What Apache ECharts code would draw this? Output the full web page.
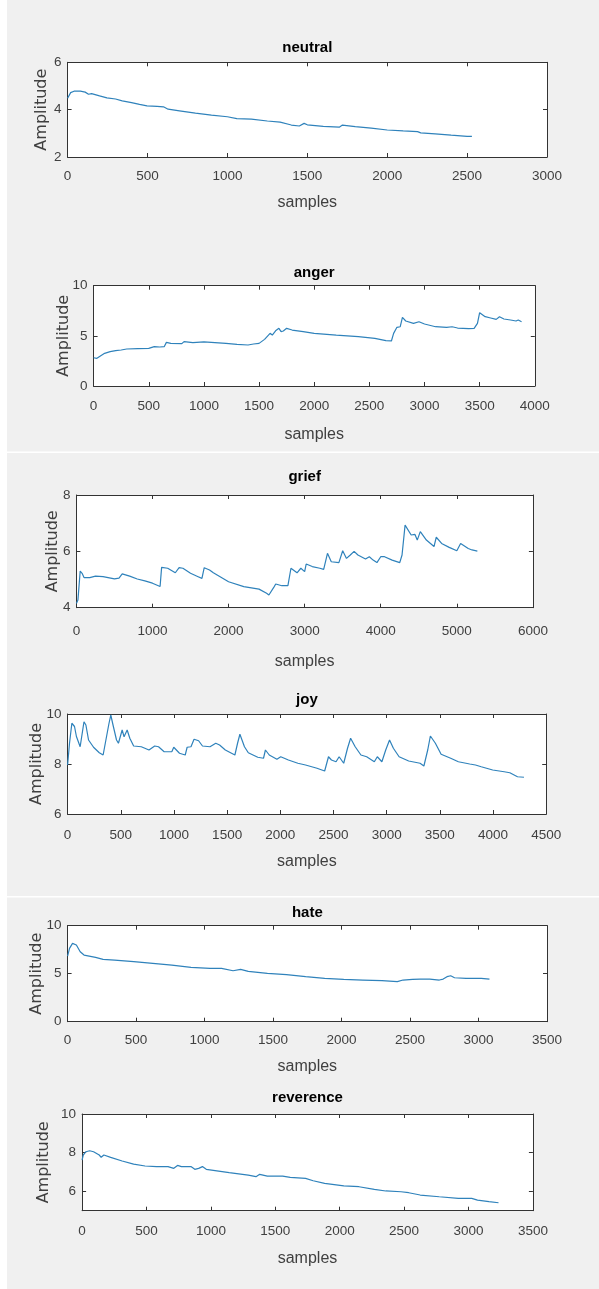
<!DOCTYPE html>
<html>
<head>
<meta charset="utf-8">
<script src="https://cdn.jsdelivr.net/npm/echarts@6/dist/echarts.min.js"></script>
<style>
html,body{margin:0;padding:0;background:#f0f0f0;overflow:hidden;}
#chart{width:599px;height:1289px;}
</style>
</head>
<body>
<div id="chart"></div>
<script>
// ---- data: [sample, amplitude] ----
const titles = ['neutral', 'anger', 'grief', 'joy', 'hate', 'reverence'];
const xLabelName = 'samples';
const yLabelName = 'Amplitude';

const neutral = [[0,4.48],[19,4.72],[40,4.78],[80,4.78],[110,4.74],[131,4.65],[150,4.68],[200,4.58],[246,4.50],[300,4.45],[342,4.37],[400,4.30],[450,4.22],[497,4.16],[560,4.14],[600,4.12],[629,4.02],[700,3.95],[800,3.85],[900,3.77],[1000,3.70],[1059,3.62],[1150,3.60],[1250,3.52],[1330,3.47],[1400,3.35],[1450,3.31],[1480,3.42],[1500,3.36],[1600,3.29],[1700,3.26],[1720,3.35],[1800,3.28],[1900,3.22],[2000,3.14],[2100,3.10],[2190,3.07],[2210,3.02],[2300,2.98],[2400,2.92],[2500,2.87],[2530,2.87]];

const anger = [[0,2.82],[30,2.76],[100,3.26],[150,3.42],[200,3.52],[250,3.59],[300,3.69],[400,3.72],[500,3.75],[550,3.92],[600,3.89],[640,3.92],[660,4.35],[700,4.25],[800,4.22],[820,4.42],[900,4.32],[1000,4.39],[1100,4.32],[1200,4.25],[1300,4.15],[1400,4.09],[1450,4.19],[1500,4.25],[1550,4.65],[1600,5.25],[1620,5.08],[1650,5.5],[1680,5.75],[1700,5.42],[1720,5.48],[1750,5.75],[1800,5.58],[1900,5.42],[2000,5.25],[2200,5.08],[2400,4.92],[2550,4.75],[2650,4.52],[2700,4.49],[2720,5.25],[2750,5.85],[2780,5.91],[2800,6.84],[2830,6.48],[2900,6.25],[2950,6.41],[3000,6.18],[3100,5.91],[3200,5.85],[3250,5.91],[3300,5.78],[3400,5.72],[3450,5.75],[3480,6.25],[3500,7.31],[3550,6.91],[3600,6.78],[3650,6.64],[3680,6.91],[3720,6.68],[3780,6.58],[3830,6.48],[3850,6.58],[3880,6.41]];

const grief = [[0,4.15],[20,4.27],[50,5.30],[75,5.22],[100,5.07],[176,5.07],[251,5.12],[350,5.10],[500,5.02],[560,5.05],[602,5.20],[700,5.12],[800,5.02],[900,4.95],[1000,4.87],[1100,4.75],[1120,5.43],[1200,5.40],[1300,5.24],[1350,5.42],[1400,5.40],[1500,5.22],[1600,5.10],[1650,5.04],[1680,5.42],[1750,5.34],[1800,5.24],[2000,4.92],[2200,4.75],[2400,4.66],[2500,4.51],[2530,4.45],[2600,4.75],[2620,4.84],[2700,4.78],[2780,4.78],[2820,5.40],[2900,5.24],[2950,5.40],[3000,5.28],[3020,5.55],[3100,5.46],[3200,5.40],[3250,5.36],[3300,5.93],[3350,5.63],[3450,5.60],[3500,6.02],[3550,5.75],[3600,5.87],[3650,6.00],[3700,5.87],[3800,5.73],[3850,5.81],[3900,5.69],[3950,5.60],[4000,5.81],[4050,5.81],[4150,5.69],[4250,5.60],[4280,5.87],[4320,6.93],[4400,6.58],[4420,6.52],[4450,6.60],[4480,6.40],[4520,6.70],[4600,6.40],[4700,6.17],[4730,6.50],[4800,6.28],[4900,6.14],[5000,6.02],[5050,6.28],[5150,6.10],[5200,6.05],[5270,6.01]];

const joy = [[0,7.96],[18,8.83],[40,9.63],[65,9.5],[83,9.1],[118,8.69],[136,8.72],[154,9.69],[172,9.56],[197,8.96],[244,8.67],[298,8.45],[334,8.36],[352,8.38],[388,9.6],[406,9.96],[427,9.56],[460,8.96],[478,8.83],[513,9.36],[531,9.09],[560,9.36],[585,9.03],[621,8.72],[693,8.69],[765,8.56],[819,8.72],[855,8.69],[908,8.49],[980,8.49],[998,8.67],[1052,8.43],[1106,8.36],[1124,8.67],[1160,8.69],[1189,8.99],[1232,8.93],[1268,8.72],[1339,8.69],[1393,8.83],[1429,8.76],[1483,8.56],[1573,8.36],[1598,8.83],[1620,9.19],[1663,8.69],[1699,8.45],[1788,8.27],[1842,8.23],[1860,8.56],[1896,8.36],[1968,8.19],[2004,8.29],[2022,8.36],[2076,8.16],[2165,8.03],[2237,7.96],[2345,7.83],[2417,7.72],[2453,8.29],[2481,8.16],[2524,8.09],[2553,8.29],[2596,8.03],[2632,8.63],[2661,9.03],[2704,8.69],[2758,8.36],[2812,8.29],[2884,8.09],[2912,8.29],[2955,8.09],[2991,8.56],[3027,8.96],[3063,8.63],[3117,8.29],[3207,8.12],[3314,8.03],[3350,7.92],[3386,8.56],[3411,9.12],[3458,8.83],[3512,8.39],[3602,8.23],[3674,8.09],[3781,8.0],[3835,7.96],[3889,7.89],[3997,7.76],[4105,7.69],[4158,7.65],[4230,7.49],[4291,7.47]];

const hate = [[0,6.84],[14,7.64],[36,8.16],[50,8.23],[64,7.99],[92,7.29],[120,6.94],[204,6.7],[259,6.49],[343,6.42],[483,6.25],[622,6.08],[761,5.9],[901,5.66],[1040,5.56],[1124,5.56],[1208,5.31],[1263,5.45],[1319,5.24],[1459,5.03],[1598,4.9],[1738,4.69],[1877,4.51],[2016,4.41],[2156,4.34],[2295,4.27],[2407,4.17],[2449,4.34],[2518,4.41],[2574,4.44],[2644,4.44],[2714,4.34],[2742,4.44],[2770,4.69],[2797,4.79],[2825,4.58],[2909,4.51],[3020,4.51],[3080,4.44]];

const reverence = [[0,7.62],[9,7.88],[30,8.05],[59,8.1],[89,8.05],[133,7.88],[148,7.76],[169,7.88],[184,7.93],[222,7.76],[311,7.57],[400,7.41],[489,7.31],[578,7.28],[667,7.28],[712,7.19],[741,7.34],[771,7.28],[845,7.28],[875,7.14],[905,7.19],[934,7.28],[964,7.14],[1142,6.97],[1290,6.84],[1350,6.76],[1379,6.88],[1438,6.79],[1557,6.79],[1616,6.72],[1735,6.67],[1794,6.55],[1883,6.41],[2032,6.28],[2150,6.24],[2269,6.1],[2358,6.02],[2476,5.98],[2536,5.93],[2625,5.81],[2773,5.72],[2921,5.64],[3025,5.64],[3070,5.55],[3159,5.47],[3233,5.41]];

const seriesData = [neutral, anger, grief, joy, hate, reverence];

// axis ranges / tick values
const xMax      = [3000, 4000, 6000, 4500, 3500, 3500];
const xStep     = [500, 500, 1000, 500, 500, 500];
const yMin      = [2, 0, 4, 6, 0, 5];
const yMax      = [6, 10, 8, 10, 10, 10];
const yTicks    = [[2,4,6],[0,5,10],[4,6,8],[6,8,10],[0,5,10],[6,8,10]];

// ---- layout (pixels) ----
const layout = [
  {l:67.6, r:547,   t:62.3,  b:157,    title:47.7,   lab:19.7, name:46,   amp:27.6},
  {l:93.6, r:534.8, t:285.7, b:386,    title:273.3,  lab:20.7, name:49,   amp:31.6},
  {l:76.4, r:532.9, t:495,   b:607.7,  title:477.3,  lab:24,   name:54,   amp:25.8},
  {l:67.6, r:546.2, t:714,   b:814,    title:700,    lab:21,   name:47.7, amp:32.3},
  {l:67.6, r:547,   t:925.7, b:1021.7, title:913.3,  lab:18.3, name:45,   amp:33.2},
  {l:82.1, r:532.9, t:1114,  b:1210.7, title:1098.3, lab:21,   name:47.6, amp:40}
];

const axisColor = '#333333';
const textColor = '#404040';
const lineColor = '#2f82bb';
const font = 'Liberation Sans, Arial, Helvetica, sans-serif';

const grid = [], xAxis = [], yAxis = [], series = [], graphic = [];

graphic.push({type:'rect', shape:{x:0,y:0,width:7,height:1289}, style:{fill:'#ffffff'}, silent:true});
graphic.push({type:'rect', shape:{x:0,y:451.5,width:599,height:1.5}, style:{fill:'#ffffff'}, silent:true});
graphic.push({type:'rect', shape:{x:0,y:896,width:599,height:1.5}, style:{fill:'#ffffff'}, silent:true});

const plain = v => String(v);

layout.forEach((p, i) => {
  grid.push({left:p.l, top:p.t, width:p.r - p.l, height:p.b - p.t, show:true,
             backgroundColor:'#ffffff', borderWidth:0, containLabel:false});
  const tickStyle = {show:true, inside:true, length:4, lineStyle:{color:axisColor, width:1}};
  // bottom x axis
  xAxis.push({type:'value', gridIndex:i, position:'bottom', min:0, max:xMax[i], interval:xStep[i],
    splitLine:{show:false},
    axisLine:{show:true, onZero:false, lineStyle:{color:axisColor, width:1}},
    axisTick:tickStyle,
    axisLabel:{show:true, color:textColor, fontSize:13.5, fontFamily:font, margin:p.lab - 7, formatter:plain},
    name:xLabelName, nameLocation:'middle', nameGap:p.name - 8, nameMoveOverlap:false,
    nameTextStyle:{color:'#404040', fontSize:16, fontFamily:font}
  });
  // top x axis (box)
  xAxis.push({type:'value', gridIndex:i, position:'top', min:0, max:xMax[i], interval:xStep[i],
    splitLine:{show:false},
    axisLine:{show:true, onZero:false, lineStyle:{color:axisColor, width:1}},
    axisTick:tickStyle, axisLabel:{show:false}
  });
  const yCommon = {type:'value', gridIndex:i, min:yMin[i], max:yMax[i], interval:1,
    splitLine:{show:false}};
  yAxis.push(Object.assign({}, yCommon, {position:'left',
    axisLine:{show:true, onZero:false, lineStyle:{color:axisColor, width:1}},
    axisTick:Object.assign({}, tickStyle, {customValues:yTicks[i]}),
    axisLabel:{show:true, color:textColor, fontSize:13.5, fontFamily:font, margin:6, customValues:yTicks[i], formatter:plain},
    name:yLabelName, nameLocation:'middle', nameGap:p.amp - 10, nameRotate:90, nameMoveOverlap:false,
    nameTextStyle:{color:'#404040', fontSize:16, fontFamily:'DejaVu Sans, sans-serif'}
  }));
  yAxis.push(Object.assign({}, yCommon, {position:'right',
    axisLine:{show:true, onZero:false, lineStyle:{color:axisColor, width:1}},
    axisTick:Object.assign({}, tickStyle, {customValues:yTicks[i]}),
    axisLabel:{show:false}
  }));
  series.push({type:'line', name:titles[i], xAxisIndex:2*i, yAxisIndex:2*i,
    data:seriesData[i], showSymbol:false, symbol:'none', smooth:false,
    lineStyle:{color:lineColor, width:1.2}, itemStyle:{color:lineColor}, clip:true});
  graphic.push({type:'text', x:(p.l + p.r) / 2, y:p.title,
    style:{text:titles[i], font:'bold 15px ' + font, fill:'#000', align:'center', verticalAlign:'middle'}});
});

const chart = echarts.init(document.getElementById('chart'), null, {renderer:'canvas'});
chart.setOption({
  backgroundColor:'#f0f0f0',
  animation:false,
  grid, xAxis, yAxis, series, graphic
});
</script>
</body>
</html>
